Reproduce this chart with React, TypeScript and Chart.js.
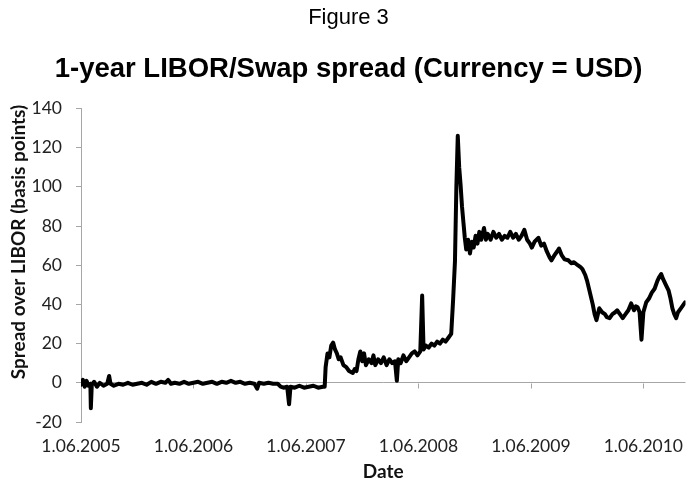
import React, { useEffect, useRef } from "react";
import { Chart, registerables } from "chart.js";

Chart.register(...registerables);

// x = months since 1.06.2005, y = spread in basis points
const months = [
  0.0, 0.2, 0.4, 0.6, 0.8, 1.0, 1.05, 1.15, 1.4, 1.7, 2.0, 2.4, 2.8, 3.0, 3.15, 3.5,
  4.0, 4.5, 5.0, 5.5, 6.0, 6.5, 7.0, 7.5, 8.0, 8.5, 9.0, 9.3, 9.6, 10.0, 10.5, 11.0,
  11.5, 12.0, 12.5, 13.0, 13.5, 14.0, 14.5, 15.0, 15.5, 16.0, 16.5, 17.0, 17.5, 18.0,
  18.5, 18.8, 19.0, 19.5, 20.0, 20.5, 21.0, 21.3, 21.6, 22.0, 22.2, 22.35, 22.8, 23.3,
  23.8, 24.3, 24.8, 25.3, 25.8, 26.0, 26.1, 26.3, 26.5, 26.7, 26.9, 27.1, 27.3, 27.5,
  27.7, 28.0, 28.3, 28.6, 29.0, 29.2, 29.4, 29.6, 29.8, 30.0, 30.2, 30.4, 30.7, 31.0,
  31.2, 31.4, 31.7, 32.0, 32.3, 32.6, 32.9, 33.2, 33.5, 33.7, 33.85, 34.1, 34.4, 34.7,
  35.0, 35.3, 35.6, 35.9, 36.2, 36.4, 36.55, 36.8, 37.1, 37.4, 37.7, 38.0, 38.3, 38.6,
  38.9, 39.2, 39.5, 39.7, 39.9, 40.05, 40.2, 40.35, 40.5, 40.65, 40.8, 40.95, 41.1,
  41.3, 41.5, 41.7, 41.9, 42.1, 42.3, 42.5, 42.7, 43.0, 43.2, 43.4, 43.7, 44.0, 44.3,
  44.6, 44.9, 45.2, 45.5, 45.8, 46.1, 46.4, 46.7, 47.0, 47.3, 47.6, 47.9, 48.1, 48.4,
  48.8, 49.1, 49.4, 49.7, 50.0, 50.2, 50.5, 50.8, 51.0, 51.3, 51.6, 52.0, 52.3, 52.6,
  53.0, 53.3, 53.5, 53.8, 54.0, 54.3, 54.6, 54.8, 55.0, 55.3, 55.6, 55.9, 56.1, 56.4,
  56.7, 57.0, 57.2, 57.5, 57.8, 58.1, 58.4, 58.7, 59.0, 59.2, 59.4, 59.6, 59.8, 60.0,
  60.3, 60.6, 60.9, 61.2, 61.5, 61.7, 61.9, 62.1, 62.4, 62.7, 62.9, 63.1, 63.3, 63.5,
  63.7, 64.0, 64.3, 64.45,
];

const spread = [
  -1, 1.5, -2, 1, -1.5, -0.5, -13, -1, 0.5, -2, 0, -1.5, -0.5, 3.5, -0.5, -1.5,
  -0.5, -1, 0, -1, -0.5, 0, -1, 0.5, -0.5, 0.5, 0, 1.5, -0.5, 0, -0.5, 0.5,
  -0.5, 0, 0.5, -0.5, 0, 0.5, -0.5, 0.5, 0, 1, 0, 0.5, -0.5, 0,
  -0.5, -3, 0, -0.5, 0, -0.5, -0.5, -2, -2.5, -2, -11, -2, -2.5, -1.5,
  -2.5, -2, -1.5, -2.5, -2, -2, 8, 15, 13, 19, 20.5, 17, 15, 12,
  13, 9, 8, 6, 5, 7, 6, 12, 16, 11, 15, 9, 12, 10,
  14, 9, 12, 10, 13, 9, 12, 10, 11, 1, 12, 10, 14, 11,
  13, 15, 16, 14, 16, 44.5, 17, 19, 18, 20, 19, 21, 20, 22,
  21, 23, 25, 42, 62, 100, 126, 110, 101, 90, 82, 74, 68,
  73, 66, 72, 69, 75, 71, 77, 73, 79, 73, 76, 73, 77, 74,
  76, 73, 75, 74, 77, 74, 76, 73, 75, 78, 73, 71, 69, 72,
  74, 70, 71, 67, 64, 62.5, 65, 67, 68.5, 65, 63, 62.5, 61, 61.5,
  60, 59, 58, 55, 52, 46, 40, 35, 32, 38, 36, 35, 33.5, 33,
  35, 36, 37, 35, 33, 35, 37, 40.5, 37, 39, 38.5, 36, 22, 36,
  41, 43, 46, 48, 52, 54, 55.5, 53, 50, 47, 43, 38, 35, 33,
  36, 38, 40, 41,
];

const tickMonths = [0, 12, 24, 36, 48, 60];
const tickLabels = ["1.06.2005", "1.06.2006", "1.06.2007", "1.06.2008", "1.06.2009", "1.06.2010"];

const figureTitle = "Figure 3";
const chartTitle = "1-year LIBOR/Swap spread (Currency = USD)";
const xTitle = "Date";
const yTitle = "Spread over LIBOR (basis points)";

const AXIS = "#a6a6a6";
const TEXT_FONT = "Lato, 'Open Sans', sans-serif";
const TITLE_FONT = "'Liberation Sans', Arial, sans-serif";

const zeroAxisTicks = {
  id: "zeroAxisTicks",
  beforeDatasetsDraw(chart: any) {
    const xs = chart.scales.x;
    const ys = chart.scales.y;
    const y0 = Math.round(ys.getPixelForValue(0)) + 0.5;
    const ctx = chart.ctx;
    ctx.save();
    ctx.strokeStyle = AXIS;
    ctx.lineWidth = 1;
    ctx.beginPath();
    for (const t of xs.ticks) {
      const px = Math.round(xs.getPixelForValue(t.value)) + 0.5;
      ctx.moveTo(px, y0);
      ctx.lineTo(px, y0 + 5);
    }
    ctx.stroke();
    ctx.restore();
  },
};

// Vertical axis title, centred on the whole chart height (as in the original)
const yAxisTitle = {
  id: "yAxisTitle",
  afterDraw(chart: any) {
    const ctx = chart.ctx;
    ctx.save();
    ctx.translate(19, chart.height / 2 + 2);
    ctx.rotate(-Math.PI / 2);
    ctx.textAlign = "center";
    ctx.textBaseline = "middle";
    ctx.fillStyle = "#111";
    ctx.font = "bold 19px " + TEXT_FONT;
    ctx.fillText(yTitle, 0, 0);
    ctx.restore();
  },
};

export default function App() {
  const ref = useRef<HTMLCanvasElement | null>(null);

  useEffect(() => {
    const canvas = ref.current;
    if (!canvas) return;
    const chart = new Chart(canvas, {
      type: "line",
      data: {
        datasets: [
          {
            data: months.map((m, i) => ({ x: m, y: spread[i] })),
            borderColor: "#000000",
            borderWidth: 4,
            pointRadius: 0,
            tension: 0,
            fill: false,
            borderJoinStyle: "round",
            borderCapStyle: "round",
          },
        ],
      },
      options: {
        animation: false,
        responsive: false,
        devicePixelRatio: 1,
        layout: { padding: 0 },
        plugins: {
          legend: { display: false },
          tooltip: { enabled: false },
          title: {
            display: true,
            text: figureTitle,
            color: "#000",
            font: { family: TITLE_FONT, size: 22, weight: "normal", lineHeight: 1.2 },
            padding: { top: 5, bottom: 0 },
          },
          subtitle: {
            display: true,
            text: chartTitle,
            color: "#000",
            font: { family: TITLE_FONT, size: 27.5, weight: "bold", lineHeight: 1.2 },
            padding: { top: 22, bottom: 22 },
          },
        },
        scales: {
          x: {
            type: "linear",
            min: 0,
            max: 64.5,
            afterFit: (s: any) => {
              s.height = 58;
            },
            afterBuildTicks: (s: any) => {
              s.ticks = tickMonths.map((v) => ({ value: v }));
            },
            grid: { display: false, drawTicks: false },
            border: { display: false },
            ticks: {
              autoSkip: false,
              maxRotation: 0,
              padding: 14,
              color: "#222",
              font: { family: TEXT_FONT, size: 17.5 },
              callback: (v: any) => tickLabels[tickMonths.indexOf(Number(v))] ?? "",
            },
            title: {
              display: true,
              text: xTitle,
              color: "#111",
              font: { family: TEXT_FONT, size: 19, weight: "bold" },
              padding: { top: 0, bottom: -3 },
            },
          },
          y: {
            min: -20,
            max: 140,
            afterFit: (s: any) => {
              s.width = 81;
            },
            ticks: {
              stepSize: 20,
              padding: 14,
              color: "#222",
              font: { family: TEXT_FONT, size: 17.5 },
            },
            grid: {
              display: true,
              drawOnChartArea: true,
              drawTicks: true,
              tickLength: 5,
              tickColor: AXIS,
              color: (c: any) => (c.tick && c.tick.value === 0 ? AXIS : "rgba(0,0,0,0)"),
            },
            border: { display: true, color: AXIS },
          },
        },
      },
      plugins: [zeroAxisTicks, yAxisTitle],
    } as any);
    return () => chart.destroy();
  }, []);

  return (
    <div style={{ position: "absolute", left: 0, top: 0, width: 697, height: 480, background: "#fff" }}>
      <canvas ref={ref} width={697} height={480} style={{ display: "block" }} />
    </div>
  );
}
